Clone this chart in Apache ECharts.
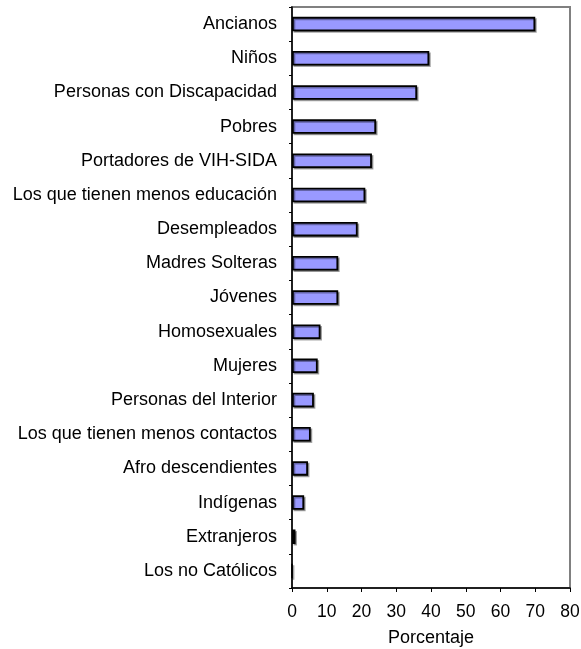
<!DOCTYPE html>
<html>
<head>
<meta charset="utf-8">
<script src="https://cdn.jsdelivr.net/npm/echarts@6/dist/echarts.min.js"></script>
<style>
html,body{margin:0;padding:0;background:#fff;}
#chart{width:581px;height:649px;}
</style>
</head>
<body>
<div id="chart"></div>
<script>
const categories = [
  "Ancianos",
  "Niños",
  "Personas con Discapacidad",
  "Pobres",
  "Portadores de VIH-SIDA",
  "Los que tienen menos educación",
  "Desempleados",
  "Madres Solteras",
  "Jóvenes",
  "Homosexuales",
  "Mujeres",
  "Personas del Interior",
  "Los que tienen menos contactos",
  "Afro descendientes",
  "Indígenas",
  "Extranjeros",
  "Los no Católicos"
];
const values = [70, 39.5, 36, 24.2, 23, 21.1, 18.9, 13.3, 13.3, 8.2, 7.4, 6.3, 5.4, 4.6, 3.5, 1, 0];
const xAxisTitle = "Porcentaje";

const FONT = "'Liberation Sans', Arial, sans-serif";
const chart = echarts.init(document.getElementById('chart'), null, {renderer: 'canvas'});
chart.setOption({
  animation: false,
  backgroundColor: '#ffffff',
  grid: {
    left: 292, right: 11, top: 7, bottom: 61,
    outerBoundsMode: 'none',
    containLabel: false,
    show: true, borderColor: '#808080', borderWidth: 2, backgroundColor: 'transparent'
  },
  xAxis: {
    type: 'value', min: 0, max: 80, interval: 10,
    name: xAxisTitle, nameLocation: 'middle', nameGap: 41,
    nameTextStyle: {fontFamily: FONT, fontSize: 18, color: '#000'},
    axisLine: {show: true, lineStyle: {color: '#000', width: 1.5}},
    axisTick: {show: true, length: 4, lineStyle: {color: '#000', width: 1}},
    axisLabel: {fontFamily: FONT, fontSize: 17.5, color: '#000', margin: 15},
    splitLine: {show: false}
  },
  yAxis: {
    type: 'category', data: categories, inverse: true,
    axisLine: {show: true, lineStyle: {color: '#000', width: 1.5}},
    axisTick: {show: true, length: 3, lineStyle: {color: '#000', width: 1}},
    axisLabel: {fontFamily: FONT, fontSize: 18, color: '#000', margin: 15, padding: [0, 0, 4, 0]},
    splitLine: {show: false}
  },
  series: [{
    type: 'bar',
    data: values,
    barWidth: 14.5,
    itemStyle: {
      color: '#9999ff',
      borderColor: '#000',
      borderWidth: 1.8,
      shadowColor: 'rgba(0,0,0,0.35)',
      shadowOffsetX: 1.5,
      shadowOffsetY: 1.5,
      shadowBlur: 0
    }
  }]
});
</script>
</body>
</html>
